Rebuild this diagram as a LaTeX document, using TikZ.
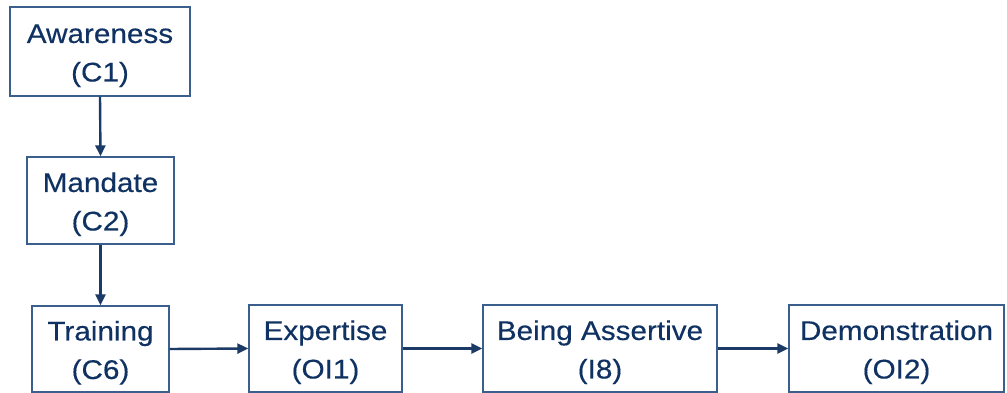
\documentclass[tikz,border=0pt]{standalone}
\usepackage{fontspec}
\setmainfont{Liberation Sans}[FakeStretch=1.1,FakeBold=0.35]
\usetikzlibrary{arrows.meta}
\definecolor{boxline}{HTML}{3A5F8C}
\definecolor{labeltext}{HTML}{0F3262}
\definecolor{flowline}{HTML}{1B3A66}
% two-line stage label: name over code
\newcommand{\stagelabel}[2]{\begin{tabular}{@{}c@{}}\rule{0pt}{33pt}#1\\#2\end{tabular}}
\begin{document}
\begin{tikzpicture}[x=1pt,y=-1pt,
  stagebox/.style={draw=boxline, line width=1.3pt, fill=white, inner sep=0pt,
    text=labeltext, font=\fontsize{27}{38.5}\selectfont},
  flow/.style={draw=flowline, line width=2.4pt,
    -{Triangle[length=11pt,width=10pt]}}]
\useasboundingbox (0,0) rectangle (1007,393);
\node[stagebox, minimum width=180pt, minimum height=89pt] (aw) at (100,51.5) {\stagelabel{Awareness}{(C1)}};
\node[stagebox, minimum width=147pt, minimum height=87pt] (ma) at (100.5,200.5) {\stagelabel{Mandate}{(C2)}};
\node[stagebox, minimum width=137pt, minimum height=86pt] (tr) at (100.5,349) {\stagelabel{Training}{(C6)}};
\node[stagebox, minimum width=153pt, minimum height=87pt] (ex) at (325.5,348.5) {\stagelabel{Expertise}{(OI1)}};
\node[stagebox, minimum width=234pt, minimum height=87pt] (ba) at (600,348.5) {\stagelabel{Being Assertive}{(I8)}};
\node[stagebox, minimum width=215pt, minimum height=87pt] (de) at (896.5,348.5) {\stagelabel{Demonstration}{(OI2)}};
\draw[flow] (aw.south) -- (ma.north);
\draw[flow] (ma.south) -- (tr.north);
\draw[flow] (tr.east) -- (ex.west);
\draw[flow] (ex.east) -- (ba.west);
\draw[flow] (ba.east) -- (de.west);
\end{tikzpicture}
\end{document}
